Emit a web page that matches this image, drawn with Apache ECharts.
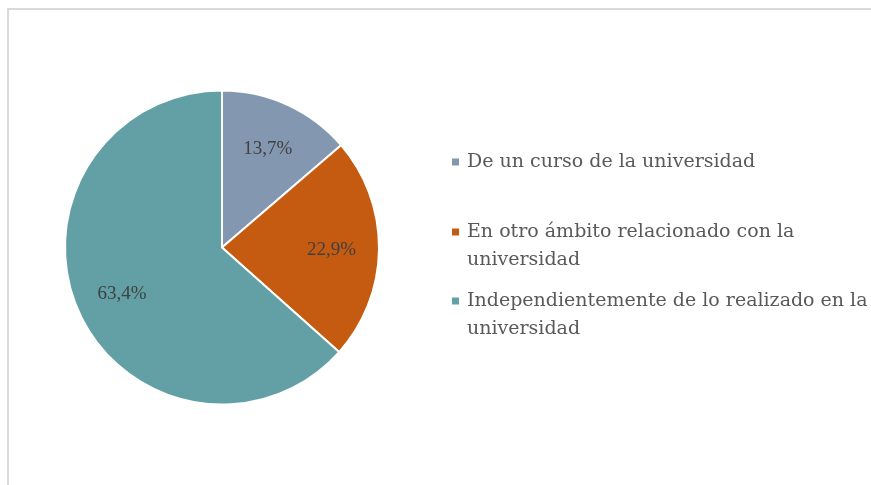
<!DOCTYPE html>
<html>
<head>
<meta charset="utf-8">
<script src="https://cdn.jsdelivr.net/npm/echarts@6/dist/echarts.min.js"></script>
<style>
  html, body { margin: 0; padding: 0; background: #fff; overflow: hidden; }
  #chart { position: absolute; left: 0; top: 0; width: 871px; height: 485px; }
  #frame { position: absolute; left: 7px; top: 8px; width: 1000px; height: 600px;
           border: 2px solid #d9d9d9; box-sizing: border-box; pointer-events: none; }
</style>
</head>
<body>
<div id="chart"></div>
<div id="frame"></div>
<script>
const categories = [
  "De un curso de la universidad",
  "En otro ámbito relacionado con la\nuniversidad",
  "Independientemente de lo realizado en la\nuniversidad"
];
const values = [13.7, 22.9, 63.4];
const colors = ["#8497b0", "#c55a11", "#62a0a6"];

const pieData = categories.map((name, i) => ({
  name: name,
  value: values[i],
  itemStyle: { color: colors[i] }
}));

// one legend per entry so each one can sit where the original has it;
// multi-line names get a blank first line so the square lines up with line one
const legendTops = [148, 190, 259];
const legends = categories.map((name, i) => ({
  orient: "vertical",
  left: 450,
  top: legendTops[i],
  padding: 0,
  itemWidth: 9,
  itemHeight: 9,
  icon: "rect",
  selectedMode: false,
  data: [name],
  formatter: (n) => (n.indexOf("\n") >= 0 ? " \n" + n : n),
  textStyle: {
    fontFamily: "DejaVu Serif",
    fontSize: 19,
    lineHeight: 28,
    color: "#595959",
    padding: [0, 0, 0, 2]
  }
}));

const chart = echarts.init(document.getElementById("chart"));
chart.setOption({
  animation: false,
  legend: legends,
  series: [
    {
      type: "pie",
      center: [222, 247.5],
      radius: [0, 157],
      startAngle: 90,
      clockwise: true,
      silent: true,
      label: { show: false },
      labelLine: { show: false },
      itemStyle: { borderColor: "#fff", borderWidth: 2 },
      data: pieData
    },
    {
      // transparent ring only used to place the labels a bit further out
      type: "pie",
      center: [222, 249],
      radius: [56, 157],
      startAngle: 90,
      clockwise: true,
      silent: true,
      itemStyle: { color: "transparent" },
      label: {
        show: true,
        position: "inside",
        fontFamily: "Liberation Serif",
        fontSize: 19,
        color: "#404040",
        formatter: (p) => p.value.toFixed(1).replace(".", ",") + "%"
      },
      labelLine: { show: false },
      data: categories.map((name, i) => ({ name: name, value: values[i] }))
    }
  ]
});
</script>
</body>
</html>
